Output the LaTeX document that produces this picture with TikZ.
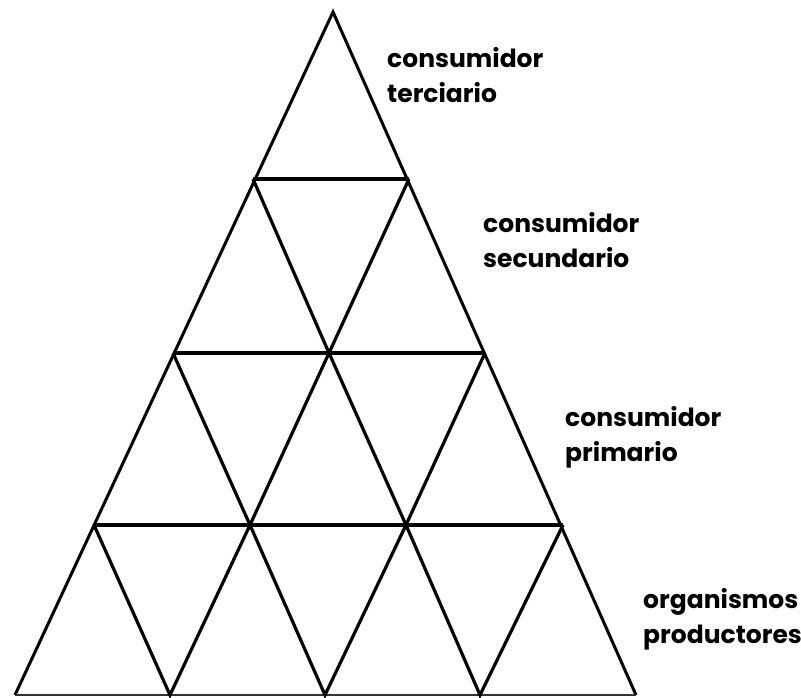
\documentclass[tikz,border=0pt]{standalone}
\usepackage{fontspec}
\setmainfont{Poppins}
\begin{document}
\begin{tikzpicture}[x=1pt,y=-1pt,
  outer/.style={line width=3pt,black},
  hline/.style={line width=4.6pt,black},
  inner/.style={line width=3.2pt,black},
  baseline/.style={line width=2.4pt,black!80},
  lbl/.style={anchor=base west,inner sep=0pt,align=left,
    font=\fontsize{25}{35}\selectfont\bfseries}]
\useasboundingbox (0,0) rectangle (801,698);
% vertices
\coordinate (A) at (333,12);
\coordinate (L1) at (253,179); \coordinate (R1) at (409,179);
\coordinate (L2) at (173,353); \coordinate (M2) at (329,353); \coordinate (R2) at (485,353);
\coordinate (L3) at (94,525); \coordinate (P3) at (250,525); \coordinate (Q3) at (406,525); \coordinate (R3) at (563,525);
\coordinate (L4) at (15,695); \coordinate (P4) at (170,695); \coordinate (Q4) at (325,695); \coordinate (S4) at (480,695); \coordinate (R4) at (636,695);
% outer sides
\draw[outer,line join=miter] (L4) -- (A) -- (R4);
\draw[baseline] (L4) -- (R4);
% horizontals
\draw[hline] (L1) -- (R1);
\draw[hline] (L2) -- (R2);
\draw[hline] (L3) -- (R3);
% inner diagonals
\draw[inner] (L1) -- (M2) -- (R1);
\draw[inner] (L2) -- (P3) -- (M2) -- (Q3) -- (R2);
\draw[inner] (L3) -- (P4) -- (P3) -- (Q4) -- (Q3) -- (S4) -- (R3);
% labels (anchor at baseline of the last line)
\node[lbl] (t3) at (387,103) {consumidor\\terciario};
\node[lbl] (t2) at (483,267) {consumidor\\secundario};
\node[lbl] (t1) at (565,461) {consumidor\\primario};
\node[lbl] (t0) at (643,643) {organismos\\productores};
\end{tikzpicture}
\end{document}
